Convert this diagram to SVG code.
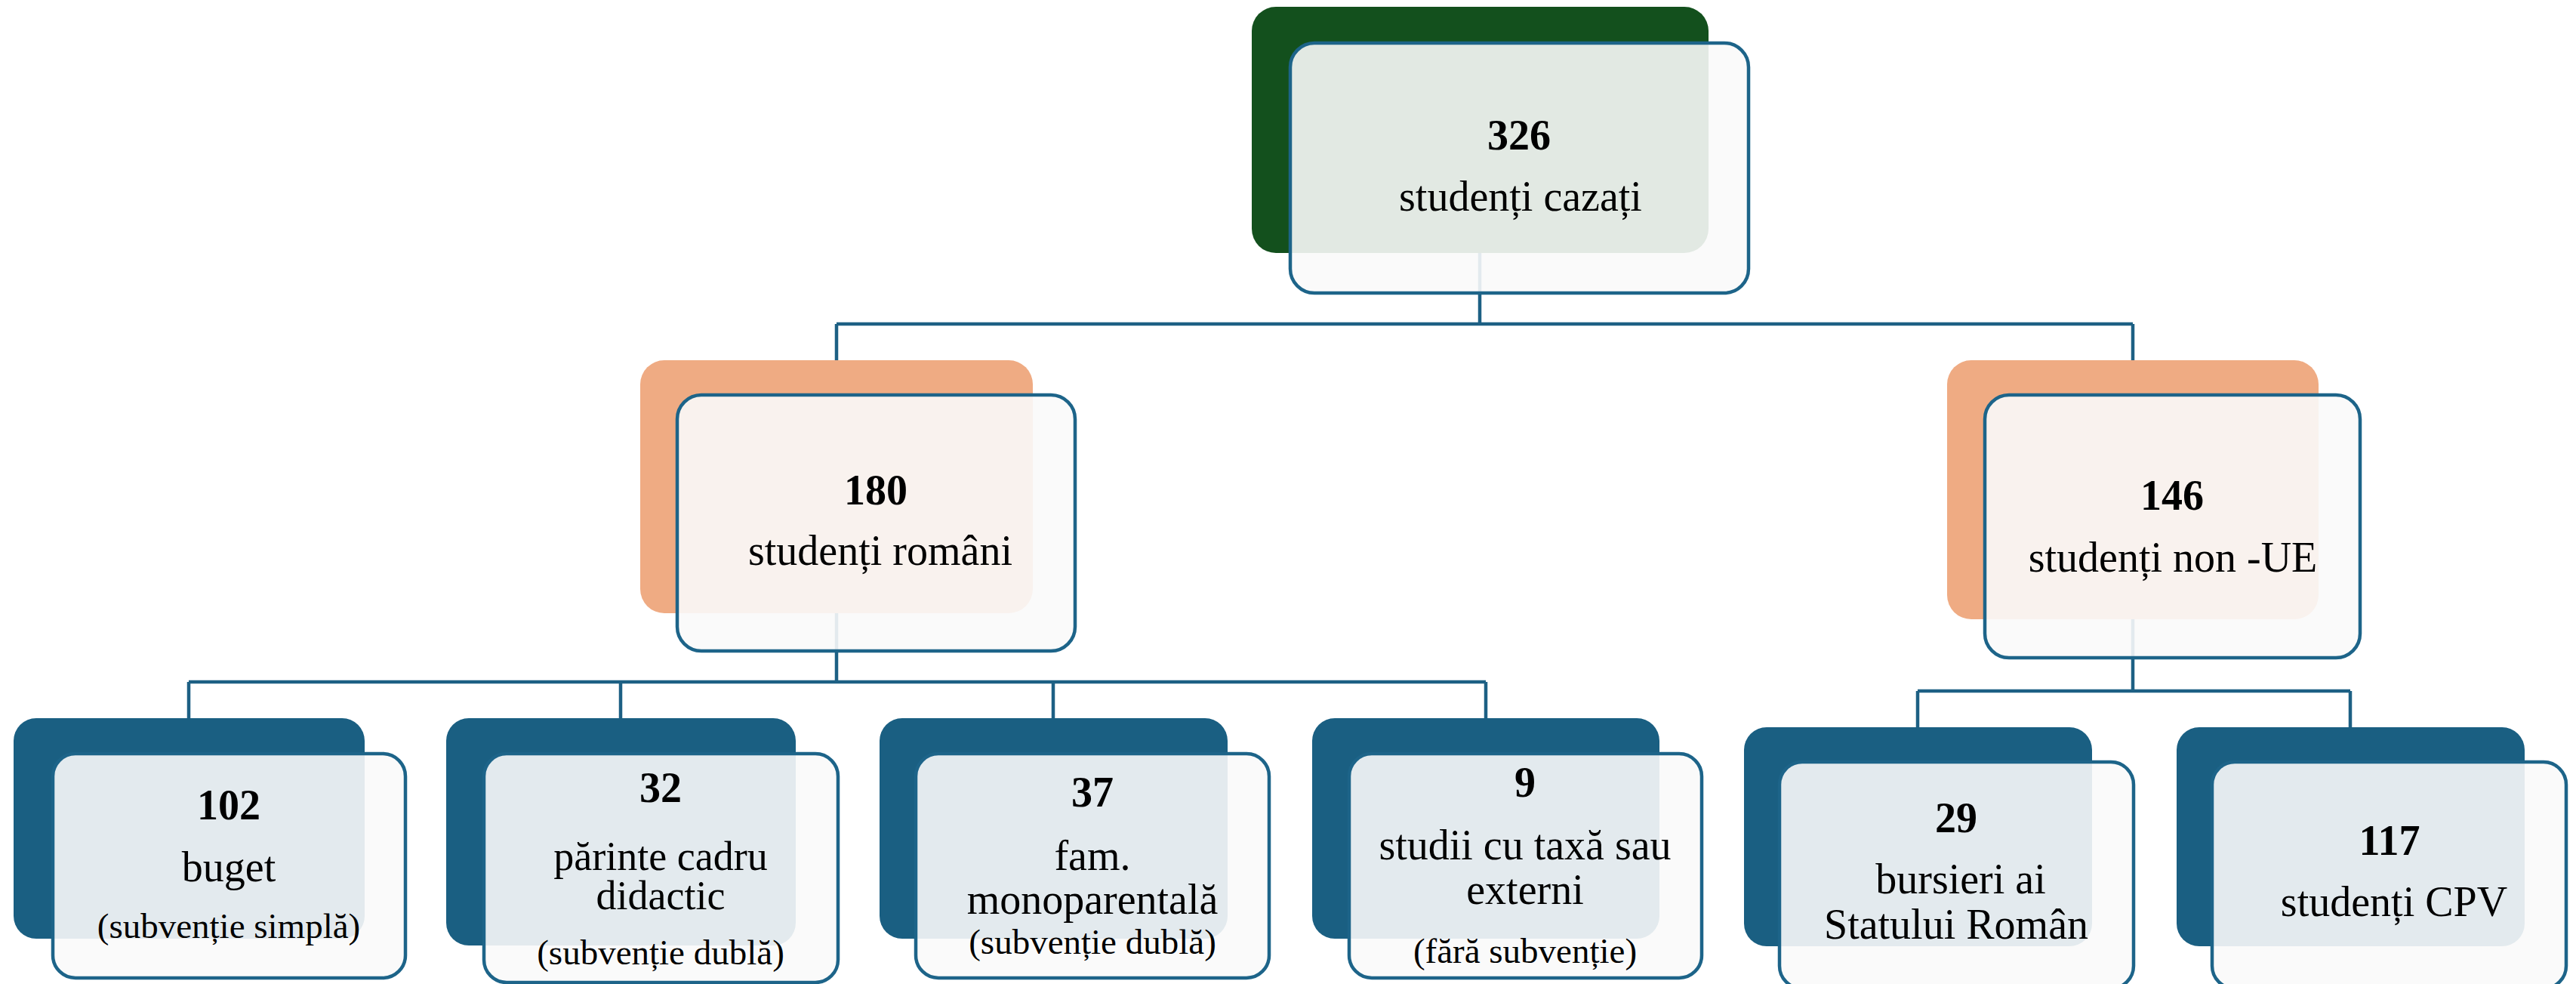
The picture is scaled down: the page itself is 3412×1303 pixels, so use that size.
<svg xmlns="http://www.w3.org/2000/svg" width="3412" height="1303" viewBox="0 0 3412 1303">
<style>
.conn{fill:none;stroke:#1D6084;stroke-width:4.5}
.front{fill:#F9F9F9;fill-opacity:0.9;stroke:#1D6489;stroke-width:4.5}
.green{fill:#13501D}
.orange{fill:#EFAB83}
.blue{fill:#1A5F82}
text{font-family:"Liberation Serif","Times New Roman",serif;fill:#000;text-anchor:middle}
.num{font-weight:bold;font-size:56px}
.lbl{font-size:56px}
.lbl2{font-size:54px}
.sub{font-size:47px}
</style>
<rect width="3412" height="1303" fill="#FFFFFF"/>
<g id="connectors">
<path class="conn" d="M1960 335 V429 M1108 429 H2825 M1108 429 V477 M2825 429 V477"/>
<path class="conn" d="M1108 812 V903 M250 903 H1968 M250 903 V951 M822 903 V951 M1395 903 V951 M1968 903 V951"/>
<path class="conn" d="M2825 820 V915 M2540 915 H3113 M2540 915 V963 M3113 915 V963"/>
</g>
<g id="node-326">
<rect class="green" x="1658" y="9" width="605" height="326" rx="32"/>
<rect class="front" x="1709" y="57" width="607" height="331" rx="32"/>
<text class="num" x="2012" y="198">326</text>
<text class="lbl" x="2014" y="279">studenți cazați</text>
</g>
<g id="node-180">
<rect class="orange" x="848" y="477" width="520" height="335" rx="32"/>
<rect class="front" x="897" y="523" width="527" height="339" rx="32"/>
<text class="num" x="1160" y="668">180</text>
<text class="lbl" x="1166" y="748">studenți români</text>
</g>
<g id="node-146">
<rect class="orange" x="2579" y="477" width="492" height="343" rx="32"/>
<rect class="front" x="2629" y="523" width="497" height="348" rx="32"/>
<text class="num" x="2877" y="675">146</text>
<text class="lbl" x="2878" y="757">studenți non -UE</text>
</g>
<g id="node-102">
<rect class="blue" x="18" y="951" width="465" height="292" rx="30"/>
<rect class="front" x="70" y="998" width="467" height="297" rx="30"/>
<text class="num" x="303" y="1085">102</text>
<text class="lbl" x="303" y="1167">buget</text>
<text class="sub" x="303" y="1242">(subvenție simplă)</text>
</g>
<g id="node-32">
<rect class="blue" x="591" y="951" width="463" height="301" rx="30"/>
<rect class="front" x="641" y="998" width="469" height="303" rx="30"/>
<text class="num" x="875" y="1062">32</text>
<text class="lbl2" x="875" y="1152">părinte cadru</text>
<text class="lbl2" x="875" y="1204">didactic</text>
<text class="sub" x="875" y="1277">(subvenție dublă)</text>
</g>
<g id="node-37">
<rect class="blue" x="1165" y="951" width="461" height="292" rx="30"/>
<rect class="front" x="1213" y="998" width="468" height="297" rx="30"/>
<text class="num" x="1447" y="1068">37</text>
<text class="lbl" x="1447" y="1152">fam.</text>
<text class="lbl" x="1447" y="1210">monoparentală</text>
<text class="sub" x="1447" y="1263">(subvenție dublă)</text>
</g>
<g id="node-9">
<rect class="blue" x="1738" y="951" width="460" height="292" rx="30"/>
<rect class="front" x="1787" y="998" width="467" height="297" rx="30"/>
<text class="num" x="2020" y="1055">9</text>
<text class="lbl" x="2020" y="1138">studii cu taxă sau</text>
<text class="lbl" x="2020" y="1197">externi</text>
<text class="sub" x="2020" y="1275">(fără subvenție)</text>
</g>
<g id="node-29">
<rect class="blue" x="2310" y="963" width="461" height="290" rx="30"/>
<rect class="front" x="2357" y="1009" width="469" height="300" rx="30"/>
<text class="num" x="2591" y="1102">29</text>
<text class="lbl" x="2597" y="1183">bursieri ai</text>
<text class="lbl" x="2591" y="1243">Statului Român</text>
</g>
<g id="node-117">
<rect class="blue" x="2883" y="963" width="461" height="290" rx="30"/>
<rect class="front" x="2930" y="1009" width="469" height="300" rx="30"/>
<text class="num" x="3165" y="1132">117</text>
<text class="lbl" x="3171" y="1213">studenți CPV</text>
</g>
</svg>
